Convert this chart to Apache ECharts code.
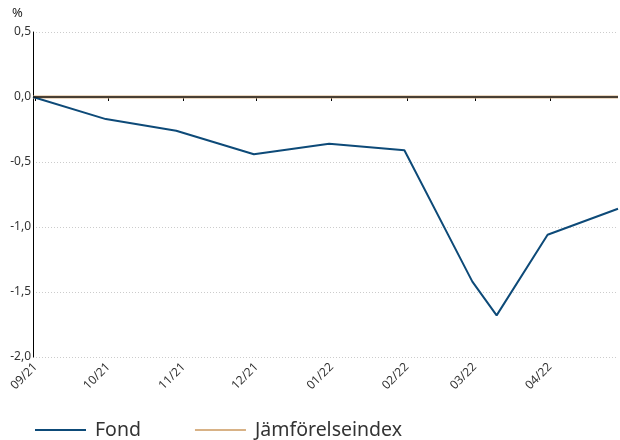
<!DOCTYPE html>
<html>
<head>
<meta charset="utf-8">
<script src="https://cdn.jsdelivr.net/npm/echarts@6/dist/echarts.min.js"></script>
<style>html,body{margin:0;padding:0;background:#fff}#c{width:620px;height:440px}</style>
</head>
<body>
<div id="c"></div>
<script>
const dates = ['2021-08-31','2021-09-30','2021-10-29','2021-11-30','2021-12-31','2022-01-31','2022-02-28','2022-03-10','2022-03-31','2022-04-29'];
const fondValues = [0, -0.17, -0.26, -0.44, -0.36, -0.41, -1.42, -1.68, -1.06, -0.86];
const benchValues = [0, 0, 0, 0, 0, 0, 0, 0, 0, 0];
const seriesNames = ['Fond', 'Jämförelseindex'];
const yTicks = [-2, -1.5, -1, -0.5, 0, 0.5];
const font = 'Noto Sans';

const chart = echarts.init(document.getElementById('c'), null, {renderer: 'canvas'});
const pair = (vals) => dates.map((d, i) => [d, vals[i]]);
chart.setOption({
  animation: false,
  textStyle: {fontFamily: font},
  grid: {left: 33, right: 2, top: 32, bottom: 83, containLabel: false},
  graphic: [{type: 'text', left: 12, top: 7, style: {text: '%', font: '13px "Noto Sans"', fill: '#222'}}],
  legend: {
    bottom: -5, left: 30,
    icon: 'rect',
    itemWidth: 51, itemHeight: 2, itemGap: 54,
    textStyle: {fontSize: 19.5, color: '#333', fontFamily: font, padding: [0, 0, 0, 4]},
    data: seriesNames
  },
  xAxis: {
    type: 'time',
    min: '2021-08-31', max: '2022-04-29',
    splitNumber: 8,
    minInterval: 28 * 86400000,
    axisLine: {show: false},
    axisTick: {show: true, length: 4, lineStyle: {color: '#000'}},
    splitLine: {show: false},
    axisLabel: {
      rotate: 45, fontSize: 12, color: '#333', margin: 8,
      showMinLabel: false, showMaxLabel: false,
      formatter: function (v) {
        const d = new Date(v);
        const m = String(d.getMonth() + 1).padStart(2, '0');
        const y = String(d.getFullYear()).slice(2);
        return m + '/' + y;
      }
    }
  },
  yAxis: {
    type: 'value', min: yTicks[0], max: yTicks[yTicks.length - 1], interval: 0.5,
    axisLine: {show: true, lineStyle: {color: '#000', width: 1}},
    axisTick: {show: false},
    axisLabel: {fontSize: 12, color: '#333', margin: 2,
      formatter: v => v.toFixed(1).replace('.', ',')},
    splitLine: {show: true, lineStyle: {color: '#ccc', type: [1, 2], width: 1}}
  },
  series: [
    {name: seriesNames[1], type: 'line', data: pair(benchValues), symbol: 'none',
     lineStyle: {color: '#d8b286', width: 3}, itemStyle: {color: '#d8b286'}, z: 2,
     markLine: {silent: true, symbol: 'none', label: {show: false},
       lineStyle: {color: '#1a1a1a', width: 1.5, type: 'solid'}, data: [{yAxis: 0}], z: 5}},
    {name: seriesNames[0], type: 'line', data: pair(fondValues), symbol: 'none',
     lineStyle: {color: '#0d4a78', width: 2}, itemStyle: {color: '#0d4a78'}, z: 3}
  ]
});
</script>
</body>
</html>
